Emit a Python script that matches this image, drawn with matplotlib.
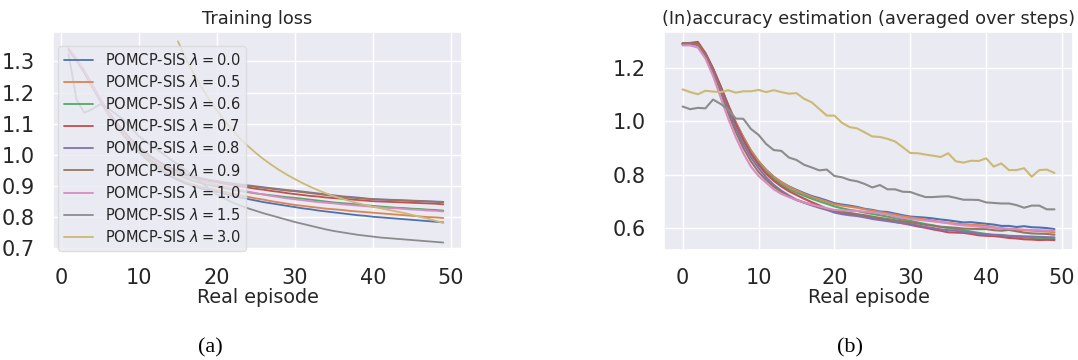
import matplotlib
matplotlib.use("Agg")
import matplotlib.pyplot as plt
import seaborn as sns

sns.set_theme(style="darkgrid")
plt.rcParams['font.family'] = ['DejaVu Sans']
plt.rcParams['mathtext.fontset'] = 'dejavusans'

# ---------------- data ----------------
lambdas = ["0.0", "0.5", "0.6", "0.7", "0.8", "0.9", "1.0", "1.5", "3.0"]
colors = ["#4C72B0", "#DD8452", "#55A868", "#C44E52", "#8172B3",
          "#937860", "#DA8BC3", "#8C8C8C", "#CCB974"]

# (a) Training loss, episodes 1..49 (lambda=3.0 from 15..49)
loss_episodes = list(range(1, 50))
loss_l30_episodes = list(range(15, 50))

loss_l00 = [1.337, 1.303, 1.265, 1.219, 1.174, 1.133, 1.096, 1.063, 1.034, 1.008,
            0.985, 0.964, 0.946, 0.931, 0.918, 0.907, 0.898, 0.891, 0.885, 0.880,
            0.874, 0.868, 0.862, 0.857, 0.852, 0.847, 0.843, 0.839, 0.835, 0.831,
            0.827, 0.824, 0.820, 0.817, 0.814, 0.811, 0.808, 0.805, 0.803, 0.800,
            0.798, 0.796, 0.794, 0.792, 0.790, 0.788, 0.786, 0.784, 0.782]
loss_l05 = [1.338, 1.304, 1.266, 1.220, 1.175, 1.134, 1.097, 1.065, 1.036, 1.010,
            0.988, 0.968, 0.951, 0.936, 0.923, 0.912, 0.903, 0.896, 0.891, 0.886,
            0.880, 0.874, 0.869, 0.864, 0.859, 0.855, 0.850, 0.846, 0.842, 0.838,
            0.835, 0.832, 0.829, 0.826, 0.824, 0.822, 0.819, 0.817, 0.815, 0.813,
            0.811, 0.809, 0.807, 0.805, 0.803, 0.801, 0.799, 0.798, 0.796]
loss_l06 = [1.339, 1.305, 1.268, 1.222, 1.177, 1.136, 1.100, 1.068, 1.040, 1.015,
            0.993, 0.975, 0.959, 0.946, 0.934, 0.924, 0.915, 0.908, 0.902, 0.897,
            0.892, 0.887, 0.883, 0.879, 0.875, 0.872, 0.869, 0.866, 0.863, 0.861,
            0.858, 0.855, 0.852, 0.849, 0.846, 0.844, 0.842, 0.840, 0.837, 0.835,
            0.833, 0.831, 0.829, 0.828, 0.826, 0.825, 0.823, 0.822, 0.820]
loss_l07 = [1.338, 1.305, 1.268, 1.223, 1.179, 1.139, 1.104, 1.073, 1.046, 1.022,
            1.001, 0.983, 0.968, 0.955, 0.944, 0.934, 0.926, 0.920, 0.915, 0.911,
            0.906, 0.902, 0.898, 0.894, 0.890, 0.887, 0.883, 0.880, 0.876, 0.873,
            0.870, 0.867, 0.865, 0.862, 0.860, 0.858, 0.856, 0.854, 0.852, 0.850,
            0.849, 0.848, 0.847, 0.846, 0.845, 0.844, 0.843, 0.842, 0.840]
loss_l08 = [1.340, 1.306, 1.270, 1.225, 1.181, 1.141, 1.106, 1.076, 1.049, 1.025,
            1.004, 0.986, 0.971, 0.958, 0.947, 0.938, 0.930, 0.924, 0.919, 0.915,
            0.911, 0.907, 0.904, 0.901, 0.898, 0.895, 0.892, 0.889, 0.886, 0.884,
            0.881, 0.878, 0.875, 0.872, 0.869, 0.866, 0.864, 0.862, 0.859, 0.857,
            0.856, 0.855, 0.854, 0.853, 0.852, 0.851, 0.850, 0.849, 0.848]
loss_l09 = [1.339, 1.305, 1.269, 1.224, 1.180, 1.140, 1.105, 1.075, 1.048, 1.024,
            1.003, 0.985, 0.970, 0.957, 0.946, 0.936, 0.928, 0.922, 0.917, 0.913,
            0.909, 0.905, 0.902, 0.899, 0.896, 0.893, 0.890, 0.887, 0.884, 0.882,
            0.879, 0.876, 0.873, 0.870, 0.867, 0.864, 0.862, 0.860, 0.858, 0.856,
            0.855, 0.854, 0.853, 0.852, 0.851, 0.850, 0.849, 0.848, 0.846]
loss_l10 = [1.343, 1.308, 1.270, 1.224, 1.179, 1.138, 1.102, 1.070, 1.042, 1.018,
            0.997, 0.980, 0.965, 0.952, 0.940, 0.930, 0.922, 0.915, 0.909, 0.903,
            0.897, 0.891, 0.886, 0.881, 0.876, 0.871, 0.867, 0.863, 0.859, 0.856,
            0.853, 0.850, 0.847, 0.845, 0.843, 0.840, 0.838, 0.836, 0.834, 0.832,
            0.830, 0.828, 0.827, 0.825, 0.823, 0.822, 0.820, 0.819, 0.817]
loss_l15 = [1.324, 1.178, 1.135, 1.146, 1.162, 1.151, 1.132, 1.113, 1.086, 1.059,
            1.040, 1.022, 1.004, 0.986, 0.968, 0.950, 0.930, 0.910, 0.890, 0.872,
            0.858, 0.846, 0.836, 0.827, 0.819, 0.811, 0.804, 0.797, 0.790, 0.783,
            0.777, 0.771, 0.765, 0.759, 0.754, 0.750, 0.746, 0.742, 0.739, 0.736,
            0.733, 0.731, 0.729, 0.727, 0.725, 0.723, 0.721, 0.719, 0.717]
loss_l30 = [1.365, 1.310, 1.262, 1.218, 1.178, 1.142, 1.109, 1.079, 1.051, 1.027,
            1.005, 0.985, 0.967, 0.950, 0.935, 0.921, 0.908, 0.896, 0.885, 0.875,
            0.866, 0.858, 0.851, 0.844, 0.838, 0.832, 0.827, 0.822, 0.817, 0.812,
            0.806, 0.800, 0.794, 0.787, 0.780]

# (b) (In)accuracy estimation, episodes 0..49
acc_episodes = list(range(0, 50))

acc_l00 = [1.289, 1.290, 1.290, 1.252, 1.195, 1.130, 1.060, 0.995, 0.940, 0.890,
           0.850, 0.818, 0.792, 0.772, 0.756, 0.743, 0.731, 0.720, 0.712, 0.703,
           0.693, 0.688, 0.684, 0.679, 0.672, 0.668, 0.662, 0.660, 0.654, 0.648,
           0.643, 0.641, 0.639, 0.636, 0.632, 0.629, 0.625, 0.621, 0.622, 0.619,
           0.616, 0.613, 0.608, 0.608, 0.604, 0.607, 0.603, 0.602, 0.600, 0.596]
acc_l05 = [1.288, 1.289, 1.291, 1.254, 1.198, 1.132, 1.062, 0.996, 0.940, 0.890,
           0.850, 0.818, 0.792, 0.772, 0.755, 0.741, 0.728, 0.717, 0.708, 0.699,
           0.689, 0.684, 0.680, 0.676, 0.670, 0.665, 0.660, 0.655, 0.650, 0.644,
           0.640, 0.636, 0.632, 0.628, 0.622, 0.620, 0.616, 0.614, 0.612, 0.611,
           0.609, 0.603, 0.598, 0.595, 0.593, 0.592, 0.590, 0.589, 0.587, 0.584]
acc_l06 = [1.289, 1.290, 1.292, 1.252, 1.195, 1.128, 1.058, 0.990, 0.933, 0.882,
           0.842, 0.810, 0.784, 0.763, 0.746, 0.733, 0.721, 0.710, 0.700, 0.691,
           0.681, 0.674, 0.668, 0.664, 0.658, 0.653, 0.648, 0.643, 0.637, 0.632,
           0.627, 0.621, 0.615, 0.610, 0.604, 0.600, 0.596, 0.592, 0.587, 0.582,
           0.578, 0.575, 0.574, 0.570, 0.567, 0.566, 0.563, 0.561, 0.560, 0.559]
acc_l07 = [1.292, 1.293, 1.297, 1.255, 1.198, 1.130, 1.058, 0.990, 0.930, 0.878,
           0.837, 0.803, 0.777, 0.756, 0.738, 0.724, 0.710, 0.697, 0.685, 0.672,
           0.662, 0.657, 0.653, 0.649, 0.644, 0.640, 0.634, 0.629, 0.623, 0.618,
           0.612, 0.606, 0.601, 0.595, 0.590, 0.584, 0.583, 0.582, 0.578, 0.573,
           0.571, 0.570, 0.567, 0.563, 0.561, 0.558, 0.557, 0.555, 0.556, 0.555]
acc_l08 = [1.290, 1.290, 1.285, 1.248, 1.190, 1.120, 1.045, 0.975, 0.915, 0.865,
           0.825, 0.790, 0.762, 0.740, 0.722, 0.706, 0.695, 0.685, 0.676, 0.668,
           0.658, 0.652, 0.648, 0.645, 0.640, 0.634, 0.630, 0.626, 0.622, 0.618,
           0.615, 0.610, 0.604, 0.600, 0.595, 0.592, 0.590, 0.586, 0.583, 0.579,
           0.575, 0.574, 0.573, 0.571, 0.570, 0.569, 0.568, 0.567, 0.566, 0.565]
acc_l09 = [1.292, 1.292, 1.290, 1.245, 1.185, 1.110, 1.030, 0.960, 0.900, 0.850,
           0.810, 0.780, 0.755, 0.735, 0.718, 0.705, 0.696, 0.688, 0.679, 0.672,
           0.665, 0.661, 0.657, 0.652, 0.648, 0.643, 0.638, 0.634, 0.629, 0.625,
           0.621, 0.617, 0.612, 0.609, 0.605, 0.603, 0.601, 0.598, 0.597, 0.596,
           0.596, 0.592, 0.590, 0.593, 0.588, 0.583, 0.580, 0.579, 0.578, 0.575]
acc_l10 = [1.284, 1.284, 1.276, 1.235, 1.170, 1.090, 1.010, 0.940, 0.880, 0.830,
           0.795, 0.770, 0.745, 0.728, 0.716, 0.705, 0.696, 0.688, 0.681, 0.674,
           0.668, 0.666, 0.665, 0.664, 0.661, 0.659, 0.655, 0.651, 0.643, 0.638,
           0.634, 0.631, 0.628, 0.625, 0.622, 0.618, 0.613, 0.610, 0.608, 0.605,
           0.603, 0.601, 0.600, 0.597, 0.596, 0.594, 0.593, 0.592, 0.591, 0.590]
acc_l15 = [1.055, 1.045, 1.050, 1.048, 1.081, 1.065, 1.044, 1.010, 1.009, 0.971,
           0.949, 0.915, 0.892, 0.889, 0.864, 0.855, 0.837, 0.827, 0.816, 0.819,
           0.795, 0.790, 0.780, 0.775, 0.765, 0.752, 0.761, 0.745, 0.745, 0.736,
           0.735, 0.725, 0.716, 0.716, 0.718, 0.719, 0.713, 0.706, 0.706, 0.705,
           0.696, 0.694, 0.692, 0.692, 0.686, 0.676, 0.684, 0.684, 0.670, 0.670]
acc_l30 = [1.119, 1.109, 1.101, 1.114, 1.111, 1.109, 1.116, 1.107, 1.112, 1.112,
           1.117, 1.109, 1.116, 1.109, 1.103, 1.105, 1.084, 1.071, 1.046, 1.021,
           1.021, 0.994, 0.978, 0.973, 0.958, 0.943, 0.941, 0.934, 0.924, 0.903,
           0.881, 0.880, 0.875, 0.871, 0.866, 0.880, 0.850, 0.845, 0.852, 0.851,
           0.861, 0.830, 0.842, 0.817, 0.817, 0.824, 0.792, 0.817, 0.819, 0.806]

loss_series = [loss_l00, loss_l05, loss_l06, loss_l07, loss_l08, loss_l09,
               loss_l10, loss_l15, loss_l30]
acc_series = [acc_l00, acc_l05, acc_l06, acc_l07, acc_l08, acc_l09,
              acc_l10, acc_l15, acc_l30]

# ---------------- figure ----------------
fig = plt.figure(figsize=(10.78, 3.6), dpi=100)
axL = fig.add_axes([0.0492, 0.3056, 0.3794, 0.6056])
axR = fig.add_axes([0.6160, 0.3056, 0.3794, 0.6056])

tick_fs = 15
text_c = "0.15"

for lam, col, ys in zip(lambdas, colors, loss_series):
    xs = loss_l30_episodes if lam == "3.0" else loss_episodes
    axL.plot(xs, ys, color=col, lw=1.3,
             label=r"POMCP-SIS $\lambda = %s$" % lam)

for lam, col, ys in zip(lambdas, colors, acc_series):
    axR.plot(acc_episodes, ys, color=col, lw=1.5)

axL.set_ylim(0.693, 1.395)
axL.set_xlim(-1.0, 51.4)
axL.set_yticks([0.7, 0.8, 0.9, 1.0, 1.1, 1.2, 1.3])
axL.set_xticks([0, 10, 20, 30, 40, 50])
axR.set_xticks([0, 10, 20, 30, 40, 50])
axR.set_yticks([0.6, 0.8, 1.0, 1.2])

for ax, title in [(axL, "Training loss"),
                  (axR, "(In)accuracy estimation (averaged over steps)")]:
    ax.set_title(title, fontsize=12.8, color=text_c, pad=6)
    ax.set_xlabel("Real episode", fontsize=13.8, color=text_c, labelpad=0)
    ax.tick_params(axis="both", labelsize=tick_fs, colors=text_c, pad=7)

leg = axL.legend(loc="upper left", bbox_to_anchor=(0.012, 0.935),
                 borderaxespad=0, fontsize=10.5, labelspacing=0.42,
                 handlelength=2.0, frameon=True)
leg.get_frame().set_edgecolor("0.85")

fig.text(210 / 1078, 1 - 348 / 360, "(a)", ha="center", va="center",
         fontsize=16, family="Liberation Serif", color="black")
fig.text(850 / 1078, 1 - 348 / 360, "(b)", ha="center", va="center",
         fontsize=16, family="Liberation Serif", color="black")

fig.savefig("out.png", dpi=100)
